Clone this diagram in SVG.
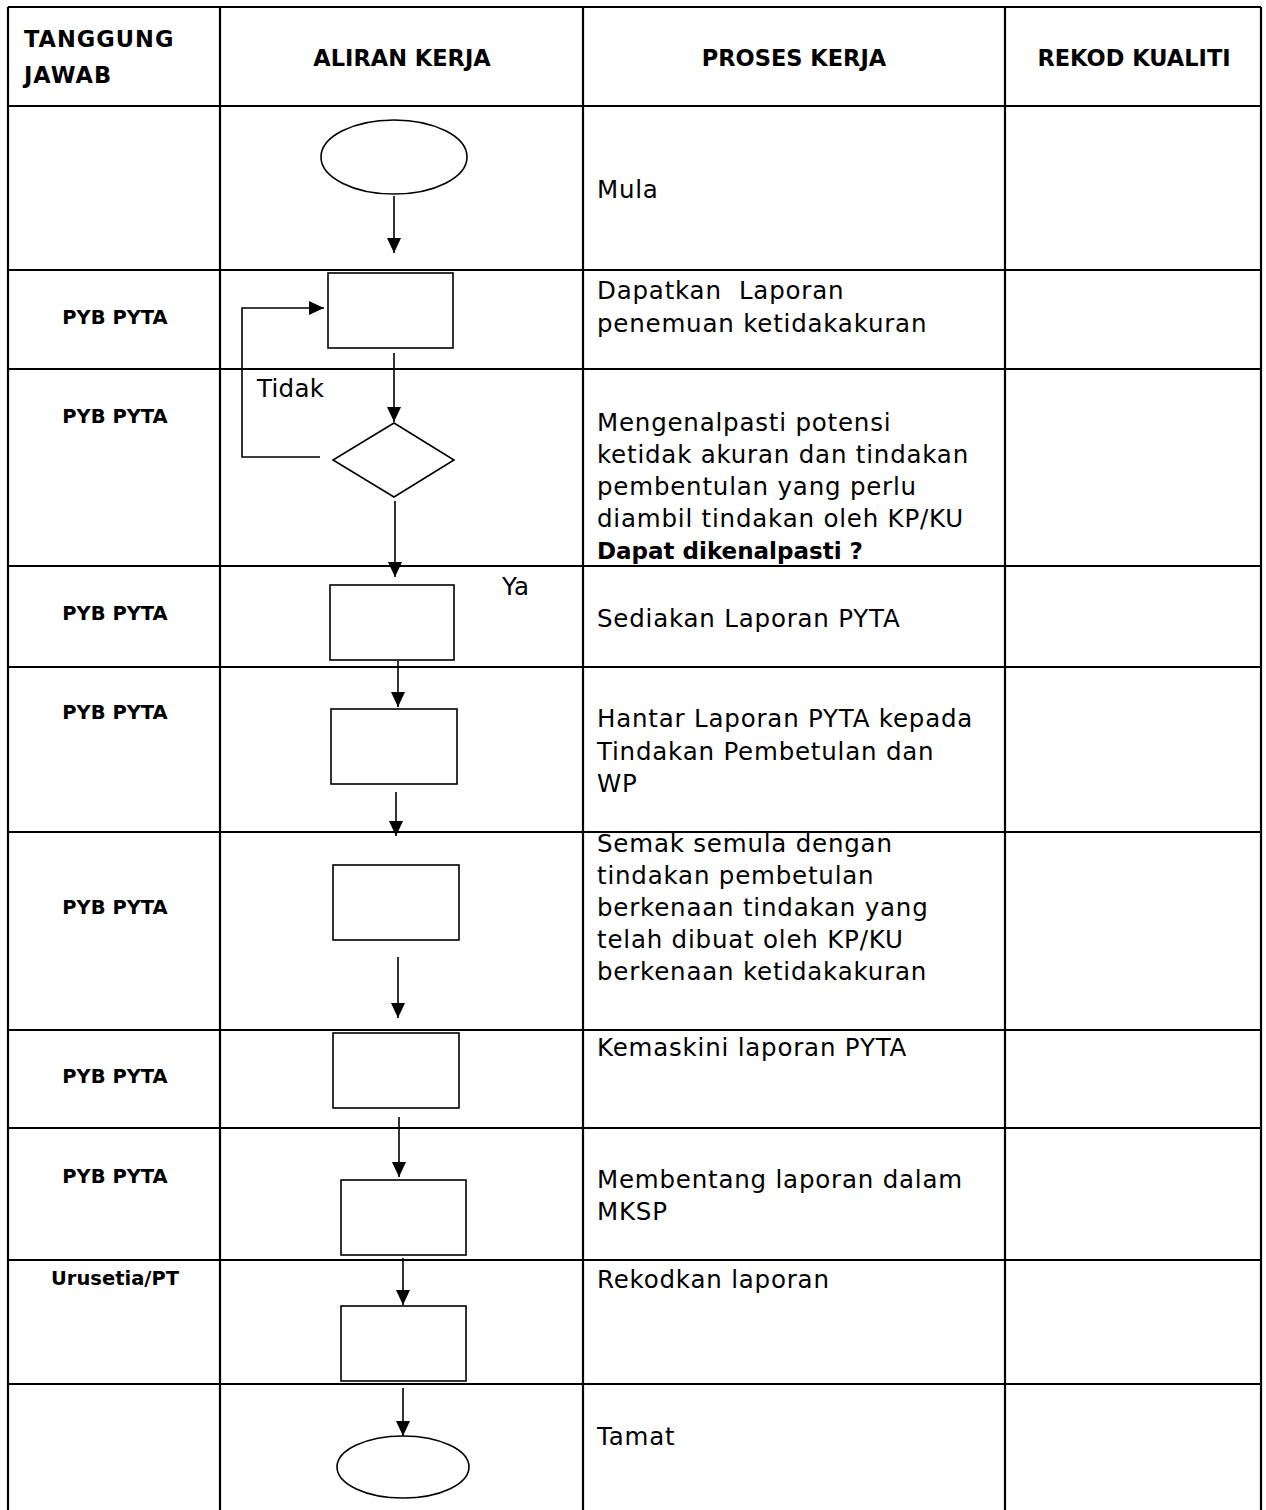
<svg xmlns="http://www.w3.org/2000/svg" width="1266" height="1510" viewBox="0 0 1266 1510">
<style>
.grid{stroke:#000;stroke-width:2.2;fill:none}
.shape{stroke:#000;stroke-width:1.6;fill:#fff}
.conn{stroke:#000;stroke-width:1.6;fill:none}
.hdr{font-family:"DejaVu Sans",sans-serif;font-weight:bold;font-size:22.5px;fill:#000}
.resp{font-family:"DejaVu Sans",sans-serif;font-weight:bold;font-size:19.5px;fill:#000;text-anchor:middle}
.body{font-family:"DejaVu Sans",sans-serif;font-size:24.5px;fill:#000;letter-spacing:0.8px}
.bodyb{font-family:"DejaVu Sans",sans-serif;font-size:23px;font-weight:bold;fill:#000}
</style>
<defs>
<marker id="ah" viewBox="0 0 15 14" refX="15" refY="7" markerWidth="15" markerHeight="14" markerUnits="userSpaceOnUse" orient="auto">
<path d="M0,0 L15,7 L0,14 z" fill="#000"/>
</marker>
</defs>
<rect width="1266" height="1510" fill="#fff"/>
<g id="table">
<path class="grid" d="M8,7 H1261 M8,106 H1261 M8,270 H1261 M8,369 H1261 M8,566 H1261 M8,667 H1261 M8,832 H1261 M8,1030 H1261 M8,1128 H1261 M8,1260 H1261 M8,1384 H1261 M8,7 V1510 M220,7 V1510 M583,7 V1510 M1005,7 V1510 M1261,7 V1510"/>
<text class="hdr" x="24" y="47" style="letter-spacing:1px">TANGGUNG</text>
<text class="hdr" x="24" y="83" style="letter-spacing:1px">JAWAB</text>
<text class="hdr" x="402" y="66" text-anchor="middle">ALIRAN KERJA</text>
<text class="hdr" x="794" y="66" text-anchor="middle">PROSES KERJA</text>
<text class="hdr" x="1134" y="66" text-anchor="middle">REKOD KUALITI</text>
<text class="resp" x="115" y="324">PYB PYTA</text>
<text class="resp" x="115" y="423">PYB PYTA</text>
<text class="resp" x="115" y="620">PYB PYTA</text>
<text class="resp" x="115" y="719">PYB PYTA</text>
<text class="resp" x="115" y="914">PYB PYTA</text>
<text class="resp" x="115" y="1083">PYB PYTA</text>
<text class="resp" x="115" y="1183">PYB PYTA</text>
<text class="resp" x="115" y="1285">Urusetia/PT</text>
<text class="body" x="597" y="198">Mula</text>
<text class="body" x="597" y="299">Dapatkan&#160; Laporan</text>
<text class="body" x="597" y="332">penemuan ketidakakuran</text>
<text class="body" x="597" y="431">Mengenalpasti potensi</text>
<text class="body" x="597" y="463">ketidak akuran dan tindakan</text>
<text class="body" x="597" y="495">pembentulan yang perlu</text>
<text class="body" x="597" y="527">diambil tindakan oleh KP/KU</text>
<text class="bodyb" x="597" y="559">Dapat dikenalpasti ?</text>
<text class="body" x="597" y="627">Sediakan Laporan PYTA</text>
<text class="body" x="597" y="727">Hantar Laporan PYTA kepada</text>
<text class="body" x="597" y="760">Tindakan Pembetulan dan</text>
<text class="body" x="597" y="792">WP</text>
<text class="body" x="597" y="852">Semak semula dengan</text>
<text class="body" x="597" y="884">tindakan pembetulan</text>
<text class="body" x="597" y="916">berkenaan tindakan yang</text>
<text class="body" x="597" y="948">telah dibuat oleh KP/KU</text>
<text class="body" x="597" y="980">berkenaan ketidakakuran</text>
<text class="body" x="597" y="1056">Kemaskini laporan PYTA</text>
<text class="body" x="597" y="1188">Membentang laporan dalam</text>
<text class="body" x="597" y="1220">MKSP</text>
<text class="body" x="597" y="1288">Rekodkan laporan</text>
<text class="body" x="597" y="1445">Tamat</text>
</g>
<g id="n-start"><ellipse class="shape" cx="394" cy="157" rx="73" ry="37"/></g>
<g id="n-dapatkan"><rect class="shape" x="328" y="273" width="125" height="75"/></g>
<g id="n-decision"><polygon class="shape" points="394,423 454,460 394,497 333,460"/></g>
<g id="n-sediakan"><rect class="shape" x="330" y="585" width="124" height="75"/></g>
<g id="n-hantar"><rect class="shape" x="331" y="709" width="126" height="75"/></g>
<g id="n-semak"><rect class="shape" x="333" y="865" width="126" height="75"/></g>
<g id="n-kemaskini"><rect class="shape" x="333" y="1033" width="126" height="75"/></g>
<g id="n-membentang"><rect class="shape" x="341" y="1180" width="125" height="75"/></g>
<g id="n-rekod"><rect class="shape" x="341" y="1306" width="125" height="75"/></g>
<g id="n-end"><ellipse class="shape" cx="403" cy="1467" rx="66" ry="31"/></g>
<g id="connectors">
<path class="conn" d="M394,196 V253" marker-end="url(#ah)"/>
<path class="conn" d="M394,353 V422" marker-end="url(#ah)"/>
<path class="conn" d="M320,457 H242 V308 H324" marker-end="url(#ah)"/>
<path class="conn" d="M395,501 V577" marker-end="url(#ah)"/>
<path class="conn" d="M398,661 V707" marker-end="url(#ah)"/>
<path class="conn" d="M396,792 V836" marker-end="url(#ah)"/>
<path class="conn" d="M398,957 V1018" marker-end="url(#ah)"/>
<path class="conn" d="M399,1117 V1177" marker-end="url(#ah)"/>
<path class="conn" d="M403,1258 V1305" marker-end="url(#ah)"/>
<path class="conn" d="M403,1388 V1436" marker-end="url(#ah)"/>
<text class="body" x="257" y="397" style="letter-spacing:0.3px">Tidak</text>
<text class="body" x="502" y="595" style="letter-spacing:0.3px">Ya</text>
</g>
</svg>
